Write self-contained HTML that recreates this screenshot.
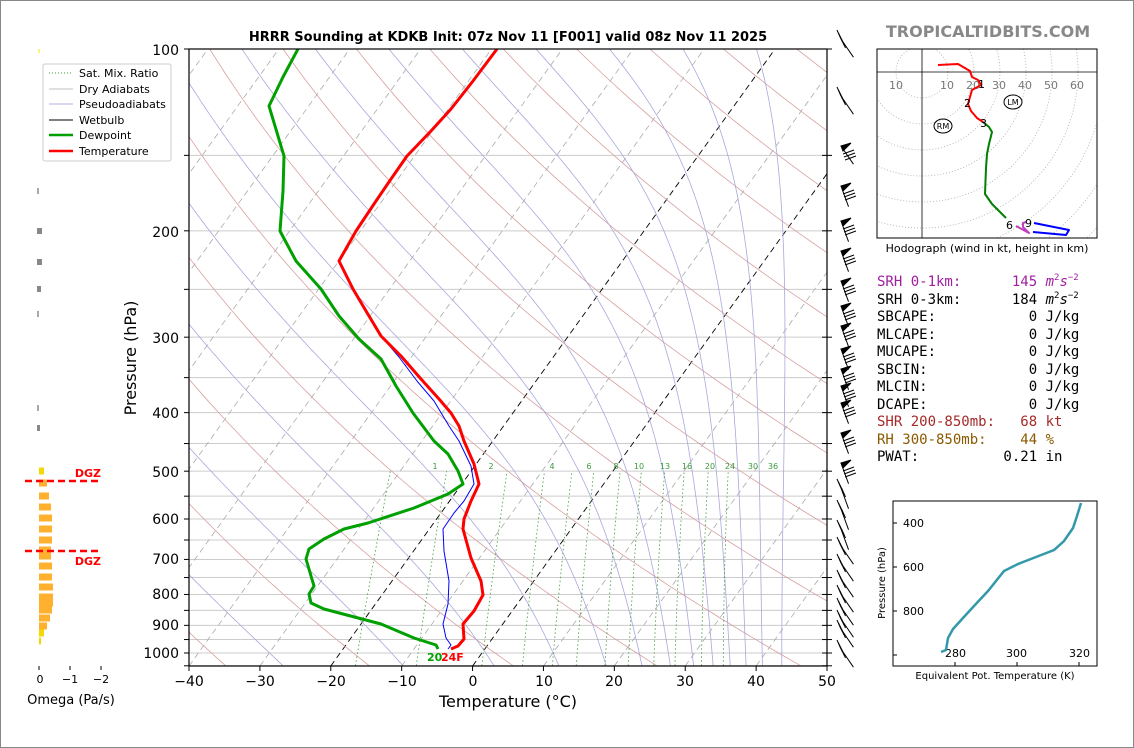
<!DOCTYPE html>
<html><head><meta charset="utf-8"><style>
body{margin:0;background:#fff}
#w{position:relative;width:1132px;height:746px;border:1px solid #888;overflow:hidden;font-family:"DejaVu Sans","Liberation Sans",sans-serif}
svg text{font-family:"DejaVu Sans","Liberation Sans",sans-serif}
.m{font-family:"DejaVu Sans Mono","Liberation Mono",monospace;font-size:14px}
.m sup{font-size:9px;line-height:0;vertical-align:0;position:relative;top:-6px}
</style></head><body><div id="w">
<svg id="s" width="1132" height="746" xmlns="http://www.w3.org/2000/svg">
<defs><clipPath id="cp"><rect x="188" y="48" width="638" height="617"/></clipPath>
<clipPath id="ch"><rect x="876" y="48" width="220" height="189"/></clipPath></defs>
<g id="bg" clip-path="url(#cp)"></g>
<g id="prof" clip-path="url(#cp)" fill="none" stroke-linejoin="round">
<polyline stroke="#0000ff" stroke-width="1" points="495,48 472,80 449,108 430,130 406,155 390,178 375,200 355,230 338,260 352,288 365,310 380,335 398,356 416,380 433,400 448,425 458,440 470,465 473,483 463,500 453,512 442,528 443,550 448,580 447,603 442,623 445,637 450,644 447,648"/>
<polyline stroke="#00a000" stroke-width="3" points="297,48 282,76 268,105 283,155 282,190 279,230 295,260 320,288 338,315 358,338 380,358 395,385 412,412 433,440 447,453 457,470 462,483 447,493 413,507 367,522 343,528 323,538 308,548 305,558 313,585 308,593 310,602 323,608 380,623 413,637 435,644 437,648"/>
<polyline stroke="#ff0000" stroke-width="3" points="496,48 472,80 450,108 430,130 406,155 390,178 375,200 355,230 338,260 352,288 365,310 380,335 400,355 420,378 438,398 450,412 458,425 463,440 473,463 478,483 470,500 463,518 462,528 470,557 480,580 482,594 473,610 462,623 463,638 457,645 450,648"/>
</g>
<rect x="188" y="48" width="638" height="617" fill="none" stroke="#000" stroke-width="1.2"/>
<g id="ticks" stroke="#000"></g>
<text x="507" y="40" text-anchor="middle" font-size="13" font-weight="bold">HRRR Sounding at KDKB Init: 07z Nov 11 [F001] valid 08z Nov 11 2025</text>
<g font-size="14" text-anchor="end">
<text x="178" y="54">100</text><text x="178" y="236">200</text><text x="178" y="342">300</text><text x="178" y="417">400</text><text x="178" y="476">500</text><text x="178" y="523">600</text><text x="178" y="563">700</text><text x="178" y="598">800</text><text x="178" y="629">900</text><text x="178" y="657">1000</text></g>
<g font-size="14" text-anchor="middle">
<text x="188" y="685">−40</text><text x="259" y="685">−30</text><text x="330" y="685">−20</text><text x="401" y="685">−10</text><text x="472" y="685">0</text><text x="543" y="685">10</text><text x="613" y="685">20</text><text x="684" y="685">30</text><text x="755" y="685">40</text><text x="826" y="685">50</text>
<text x="507" y="706" font-size="16">Temperature (°C)</text></g>
<text transform="translate(135,357) rotate(-90)" font-size="16" text-anchor="middle">Pressure (hPa)</text>
<g font-size="8" fill="#3a9a3a" text-anchor="middle">
<text x="434" y="468">1</text><text x="490" y="468">2</text><text x="551" y="468">4</text><text x="588" y="468">6</text><text x="615" y="468">8</text><text x="638" y="468">10</text><text x="664" y="468">13</text><text x="686" y="468">16</text><text x="709" y="468">20</text><text x="729" y="468">24</text><text x="752" y="468">30</text><text x="772" y="468">36</text></g>
<text x="426" y="660" font-size="11" font-weight="bold" fill="#00a000">20</text><text x="440" y="660" font-size="11" font-weight="bold" fill="#ff0000">24F</text>
<rect x="42" y="63" width="128" height="97" fill="#fff" stroke="#ccc" rx="2"/>
<g font-size="11"><line x1="48" y1="72" x2="72" y2="72" stroke="#3a9a3a" stroke-dasharray="1,2"/><text x="78" y="76">Sat. Mix. Ratio</text>
<line x1="48" y1="88" x2="72" y2="88" stroke="#c0c0c0"/><text x="78" y="92">Dry Adiabats</text>
<line x1="48" y1="103" x2="72" y2="103" stroke="#b0b0d8"/><text x="78" y="107">Pseudoadiabats</text>
<line x1="48" y1="119" x2="72" y2="119" stroke="#000"/><text x="78" y="123">Wetbulb</text>
<line x1="48" y1="134" x2="72" y2="134" stroke="#00a000" stroke-width="2.5"/><text x="78" y="138">Dewpoint</text>
<line x1="48" y1="150" x2="72" y2="150" stroke="#ff0000" stroke-width="2.5"/><text x="78" y="154">Temperature</text></g>
<g id="barbs" stroke="#000" fill="#000" stroke-width="1"></g>
<g id="om"></g>
<line x1="24" y1="480" x2="98" y2="480" stroke="#ff0000" stroke-width="2.5" stroke-dasharray="7,4"/>
<line x1="24" y1="550" x2="98" y2="550" stroke="#ff0000" stroke-width="2.5" stroke-dasharray="7,4"/>
<text x="100" y="476" font-size="11" font-weight="bold" fill="#ff0000" text-anchor="end">DGZ</text>
<text x="100" y="564" font-size="11" font-weight="bold" fill="#ff0000" text-anchor="end">DGZ</text>
<g stroke="#000"><line x1="38" y1="665" x2="38" y2="669"/><line x1="69" y1="665" x2="69" y2="669"/><line x1="100" y1="665" x2="100" y2="669"/></g>
<g font-size="11" text-anchor="middle"><text x="39" y="682">0</text><text x="69" y="682">−1</text><text x="100" y="682">−2</text></g>
<text x="70" y="703" font-size="13" text-anchor="middle">Omega (Pa/s)</text>
<text x="987" y="36" font-size="16" font-weight="bold" fill="#888" text-anchor="middle">TROPICALTIDBITS.COM</text>
<g id="hod" clip-path="url(#ch)"></g>
<rect x="876" y="48" width="220" height="189" fill="none" stroke="#000"/>
<line x1="876" y1="71" x2="1096" y2="71" stroke="#000" stroke-width="0.8"/><line x1="921" y1="48" x2="921" y2="237" stroke="#000" stroke-width="0.8"/>
<g font-size="11" fill="#777" text-anchor="middle"><text x="895" y="88">10</text><text x="946" y="88">10</text><text x="972" y="88">20</text><text x="998" y="88">30</text><text x="1024" y="88">40</text><text x="1050" y="88">50</text><text x="1076" y="88">60</text></g>
<g fill="none" stroke-width="2" stroke-linejoin="round">
<polyline stroke="#ff0000" points="937,64 957,63 969,70 971,76 977,79 980,84 971,89 969,96 967,103 970,110 976,117 982,121"/>
<polyline stroke="#008000" points="982,121 988,126 991,131 988,143 986,153 985,167 984,193 991,203 1005,217"/>
<polyline stroke="#c040c0" points="1015,225 1028,232 1022,226 1022,222 1025,221"/>
<polyline stroke="#0000ff" points="1033,222 1068,229 1065,234 1032,231"/></g>
<g font-size="11"><text x="977" y="87">1</text><text x="963" y="106">2</text><text x="979" y="126">3</text><text x="1005" y="228">6</text><text x="1024" y="226">9</text></g>
<g fill="none" stroke="#000"><ellipse cx="942" cy="125" rx="9" ry="7"/><ellipse cx="1012" cy="101" rx="9" ry="7"/></g>
<g font-size="8" text-anchor="middle"><text x="942" y="128">RM</text><text x="1012" y="104">LM</text></g>
<text x="986" y="251" font-size="11" text-anchor="middle">Hodograph (wind in kt, height in km)</text>
<rect x="892" y="500" width="204" height="165" fill="none" stroke="#000"/>
<g stroke="#000"><line x1="892" y1="522" x2="896" y2="522"/><line x1="892" y1="566" x2="896" y2="566"/><line x1="892" y1="610" x2="896" y2="610"/><line x1="892" y1="654" x2="896" y2="654"/>
<line x1="954" y1="665" x2="954" y2="661"/><line x1="1016" y1="665" x2="1016" y2="661"/><line x1="1078" y1="665" x2="1078" y2="661"/></g>
<g font-size="11"><text x="902" y="526">400</text><text x="902" y="570">600</text><text x="902" y="614">800</text>
<text x="944" y="656">280</text><text x="1005" y="656">300</text><text x="1068" y="656">320</text></g>
<text x="994" y="678" font-size="10" text-anchor="middle">Equivalent Pot. Temperature (K)</text>
<text transform="translate(884,582) rotate(-90)" font-size="10" text-anchor="middle">Pressure (hPa)</text>
<polyline fill="none" stroke="#3399aa" stroke-width="2.5" points="940,651 945,649 947,637 952,628 962,617 973,605 987,590 1003,570 1017,563 1035,556 1053,549 1063,540 1072,527 1076,515 1080,502"/>
</svg>
<div class="m" style="position:absolute;left:876px;top:273px;line-height:17.5px;white-space:pre"><span style="color:#a020a0">SRH 0-1km:      145 <i>m</i><sup>2</sup><i>s</i><sup>−2</sup></span>
SRH 0-3km:      184 <i>m</i><sup>2</sup><i>s</i><sup>−2</sup>
SBCAPE:           0 J/kg
MLCAPE:           0 J/kg
MUCAPE:           0 J/kg
SBCIN:            0 J/kg
MLCIN:            0 J/kg
DCAPE:            0 J/kg
<span style="color:#a52a2a">SHR 200-850mb:   68 kt</span>
<span style="color:#8b5a00">RH 300-850mb:    44 %</span>
PWAT:          0.21 in</div>
</div>
<script>
var NS="http://www.w3.org/2000/svg";
function el(p,t,a){var e=document.createElementNS(NS,t);for(var k in a)e.setAttribute(k,a[k]);p.appendChild(e);return e;}
function Y(p){return 48+Math.log10(p/100)*604;}
function X(T,y){return 188+(T+40)*7.089+(665-y)*0.72;}
function Xm(T,y){return 188+(T+40)*7.089+(665-y)*0.491;}
var bg=document.getElementById('bg');
function line(pts,st){el(bg,'polyline',Object.assign({points:pts.map(function(q){return q[0].toFixed(1)+','+q[1].toFixed(1)}).join(' '),fill:'none'},st));}
for(var p=100;p<=1050;p+=50){var y=Y(p);el(bg,'line',{x1:188,x2:826,y1:y,y2:y,stroke:'#ccc','stroke-width':1});}
for(var T=-130;T<=50;T+=10){var b=(T==0||T==-20);line([[X(T,665),665],[X(T,48),48]],{stroke:b?'#000':'#aaa','stroke-width':b?0.9:0.8,'stroke-dasharray':'6,4'});}
for(var th=215;th<=555;th+=20){var pts=[];for(var p=1050;p>=100;p-=10){var Tk=th*Math.pow(p/1000,0.286);var y=Y(p);pts.push([X(Tk-273.15,y),y]);}line(pts,{stroke:'#d8a0a0','stroke-width':0.8});}
function es(Tc){return 6.112*Math.exp(17.67*Tc/(Tc+243.5));}
for(var k=-5;k<8;k++){var Td=-95.2+10.37*k+273.15,pts=[[X(Td-273.15,48),48]];
 for(var q=100;q<1050;q+=2){var e=es(Td-273.15);var rs=0.622*e/(q-e);var d=(287*Td+2.5e6*rs)/(q*(1004+2.5e6*2.5e6*rs*0.622/(287*Td*Td)));Td+=d*2;var y=Y(q+2);pts.push([X(Td-273.15,y),y]);}
 line(pts,{stroke:'#a8a8dc','stroke-width':0.8});}
[1,2,4,6,8,10,13,16,20,24,30,36].forEach(function(w){var pts=[];for(var p=1050;p>=500;p-=10){var r=w/1000;var e=r*p/(0.622+r);var l=Math.log(e/6.112);var td=243.5*l/(17.67-l);var y=Y(p);pts.push([Xm(td,y),y]);}line(pts,{stroke:'#3a9a3a','stroke-width':0.8,'stroke-dasharray':'1.5,2.5'});});
var tk=document.getElementById('ticks');
for(var p=100;p<=1050;p+=50){var y=Y(p);el(tk,'line',{x1:183,x2:188,y1:y,y2:y});el(tk,'line',{x1:821,x2:831,y1:y,y2:y});}
for(var T=-40;T<=50;T+=10){var x=188+(T+40)*7.089;el(tk,'line',{x1:x,x2:x,y1:665,y2:670});}
var bb=document.getElementById('barbs');
var by=[38,95,145,185,220,250,280,305,325,348,368,385,402,432,462,487,508,528,545,562,578,593,606,618,628,648];
by.forEach(function(y,i){var x=840;var ang=i<3||i>17?0.6:0.35;var L=22;var x2=x+L*Math.sin(ang),y2=y+L*Math.cos(ang);el(bb,'line',{x1:x,y1:y,x2:x2,y2:y2});
 if(i>=2&&i<=14){el(bb,'polygon',{points:x+','+y+' '+(x+10)+','+(y-3)+' '+(x+2)+','+(y+5)});for(var k=1;k<4;k++){var yy=y+5+k*3;el(bb,'line',{x1:x+1+k,y1:yy,x2:x+12+k,y2:yy-4});}}
 else{for(var k=0;k<4;k++){var yy=y+k*3;el(bb,'line',{x1:x+k*1.5,y1:yy,x2:x-4+k*1.5,y2:yy-9});}}});
var om=document.getElementById('om');
el(om,'line',{x1:38,y1:48,x2:38,y2:52,stroke:'#ee0'});
[[190,2,'#aaa'],[230,5,'#888'],[261,5,'#888'],[288,4,'#888'],[313,2,'#aaa'],[407,2,'#aaa'],[427,3,'#888']].forEach(function(b){el(om,'rect',{x:36,y:b[0]-3,width:b[1],height:6,fill:b[2]});});
var ob=[[470,5,'#f5d800'],[482,8],[495,10],[506,12],[517,13],[528,13],[539,13],[549,12],[555,12],[565,13],[576,13],[586,14],[596,14],[602,14],[609,13],[617,11],[625,8],[632,5,'#f5d800'],[640,2,'#f5d800']];
ob.forEach(function(b){el(om,'rect',{x:38,y:b[0]-3.5,width:b[1],height:7,fill:b[2]||'#ffb02e'});});
var hd=document.getElementById('hod');
for(var r=26;r<=260;r+=26)el(hd,'circle',{cx:921,cy:71,r:r,fill:'none',stroke:'#aaa','stroke-dasharray':'1,2','stroke-width':0.8});
</script>
</body></html>
